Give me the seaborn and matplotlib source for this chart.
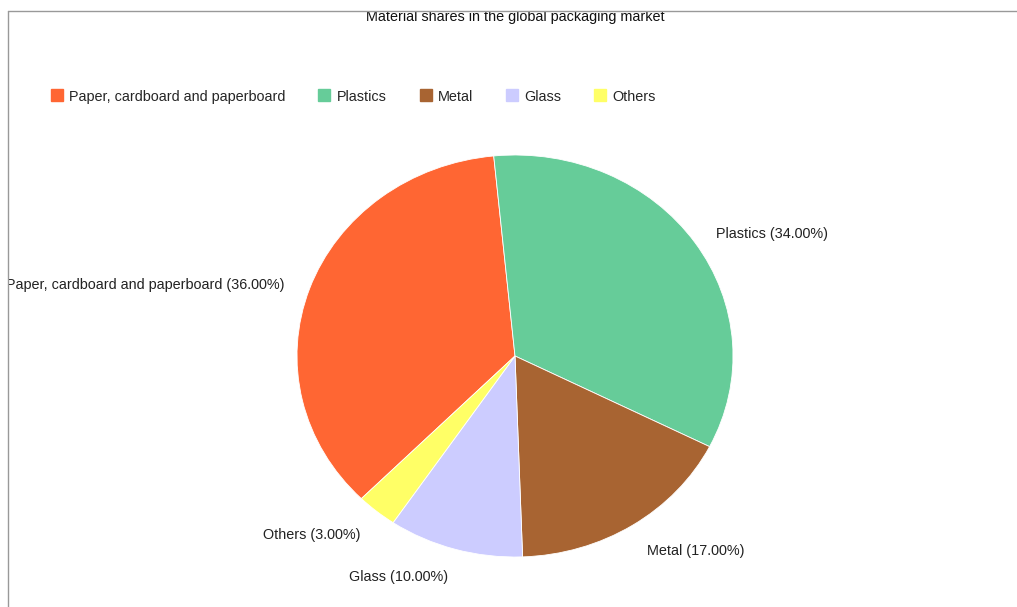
import numpy as np
import matplotlib
matplotlib.use("Agg")
import matplotlib.pyplot as plt
import seaborn as sns
from matplotlib.patches import Rectangle
from matplotlib.lines import Line2D
from matplotlib.transforms import ScaledTranslation

materials = ["Paper, cardboard and paperboard", "Plastics", "Metal", "Glass", "Others"]
shares = [36.0, 34.0, 17.0, 10.0, 3.0]
colours = ["#FF6633", "#66CC99", "#A86432", "#CCCCFF", "#FFFF66"]
title = "Material shares in the global packaging market"

sns.set_theme(style="white")
plt.rcParams['font.family'] = ['Liberation Sans', 'DejaVu Sans']
FS = 10.4

W, H = 1017, 607
fig = plt.figure(figsize=(W / 100, H / 100), dpi=100)
fig.patch.set_facecolor("white")

# pie box in pixels: x 297..733, y 155..557 (slightly squashed, like the source)
ax = fig.add_axes([297 / W, (H - 557) / H, 436 / W, 402 / H])

labels = ["%s (%.2f%%)" % (m, s) for m, s in zip(materials, shares)]
wedges, texts = ax.pie(shares, labels=labels, colors=sns.color_palette(colours),
                       startangle=225.2, counterclock=False, labeldistance=1.12,
                       wedgeprops=dict(linewidth=0.6, edgecolor="white"),
                       textprops=dict(fontsize=FS, color="#222222", va="center"))
ax.set_aspect("auto")
ax.set_xlim(-1, 1)
ax.set_ylim(-1, 1)
ax.axis("off")

# labels sit a few pixels lower in the original
shift = ScaledTranslation(0, -5 / 100, fig.dpi_scale_trans)
for t in texts:
    t.set_transform(ax.transData + shift)

fig.text(515 / W, 1 - 17.5 / H, title, ha="center", va="center", fontsize=FS, color="#111111")

handles = [Line2D([], [], marker="s", linestyle="", markersize=8.5,
                  markerfacecolor=c, markeredgecolor=c) for c in colours]
fig.legend(handles, materials, loc="center left", bbox_to_anchor=(38 / W, 1 - 96.5 / H),
           ncol=5, frameon=False, fontsize=FS, handlelength=0.8, handletextpad=0.45,
           columnspacing=2.3)

# frame of the original screenshot: white margin + grey line on top and left
fig.patches.append(Rectangle((0, 0), 8 / W, 1, transform=fig.transFigure,
                             facecolor="white", edgecolor="none", zorder=10))
fig.patches.append(Rectangle((0, 1 - 11 / H), 1, 11 / H, transform=fig.transFigure,
                             facecolor="white", edgecolor="none", zorder=10))
fig.lines.append(Line2D([8 / W, 1], [1 - 11 / H, 1 - 11 / H], transform=fig.transFigure,
                        color="#999999", linewidth=1, zorder=11))
fig.lines.append(Line2D([8 / W, 8 / W], [0, 1 - 11 / H], transform=fig.transFigure,
                        color="#999999", linewidth=1, zorder=11))

fig.savefig("out.png", dpi=100)
